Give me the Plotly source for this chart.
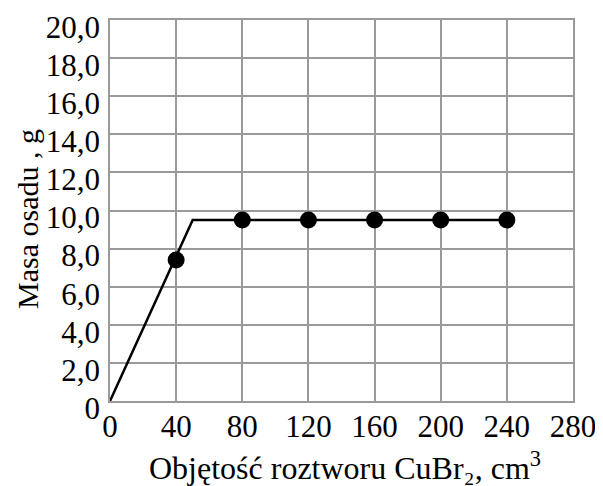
import plotly.graph_objects as go

x_ticks = [0, 40, 80, 120, 160, 200, 240, 280]
y_ticks = [0, 2, 4, 6, 8, 10, 12, 14, 16, 18, 20]
y_tick_labels = ["0", "2,0", "4,0", "6,0", "8,0", "10,0", "12,0", "14,0", "16,0", "18,0", "20,0"]

line_x = [0, 50, 240]
line_y = [0, 9.5, 9.5]

point_x = [40, 80, 120, 160, 200, 240]
point_y = [7.4, 9.5, 9.5, 9.5, 9.5, 9.5]

x_title = "Objętość roztworu CuBr₂, cm<sup>3</sup>"
y_title = "Masa osadu , g"

FONT = "Liberation Serif, Times New Roman, serif"
GRID = "#9a9a9a"

fig = go.Figure()
fig.add_trace(go.Scatter(x=line_x, y=line_y, mode="lines",
                         line=dict(color="black", width=2.5), showlegend=False))
fig.add_trace(go.Scatter(x=point_x, y=point_y, mode="markers",
                         marker=dict(color="black", size=17), showlegend=False))

# page body has an 8px margin, so the figure is offset by (8, 8)
fig.update_layout(
    width=595, height=478,
    margin=dict(l=102, r=30, t=12, b=85),
    paper_bgcolor="white", plot_bgcolor="white",
    font=dict(family=FONT, size=30, color="black"),
    xaxis=dict(range=[0, 280], tickvals=x_ticks, ticktext=[str(v) for v in x_ticks],
               showgrid=True, gridcolor=GRID, gridwidth=1.5,
               showline=True, linecolor=GRID, linewidth=1.5, mirror=True,
               zeroline=False, ticks="", ticklabelstandoff=-3, automargin=False,
               ticklabeloverflow="allow", tickfont=dict(size=31)),
    yaxis=dict(range=[0, 20], tickvals=y_ticks, ticktext=y_tick_labels,
               showgrid=True, gridcolor=GRID, gridwidth=1.5,
               showline=True, linecolor=GRID, linewidth=1.5, mirror=True,
               zeroline=False, ticks="", ticklabelstandoff=2, ticklabelshift=7,
               automargin=False, ticklabeloverflow="allow", tickfont=dict(size=31)),
    annotations=[
        dict(text=x_title, xref="paper", yref="paper", x=(345 - 110) / 463, y=-0.171,
             xanchor="center", yanchor="middle", showarrow=False,
             font=dict(size=32)),
        dict(text=y_title, xref="paper", yref="paper", x=(28 - 110) / 463, y=0.478,
             xanchor="center", yanchor="middle", showarrow=False, textangle=-90,
             font=dict(size=30)),
    ],
)

fig.write_html("out.html")
